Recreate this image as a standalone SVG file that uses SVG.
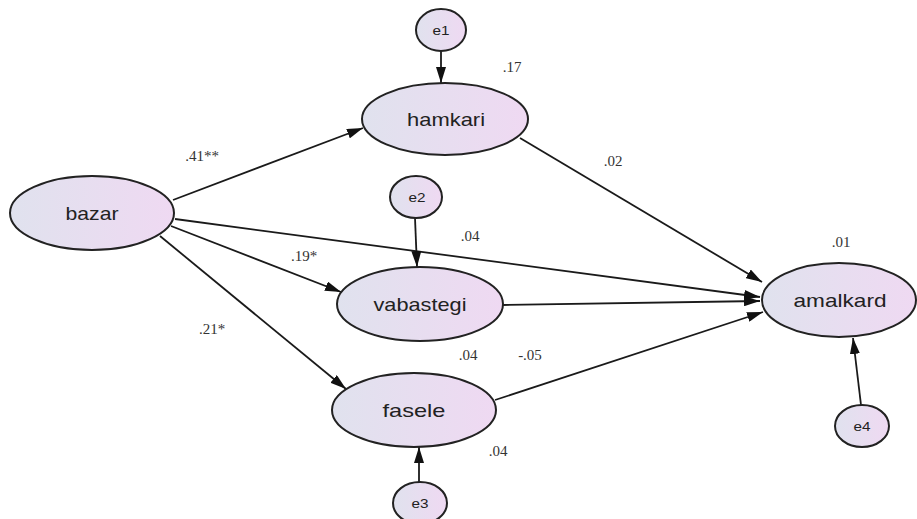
<svg xmlns="http://www.w3.org/2000/svg" width="917" height="519" viewBox="0 0 917 519">
<defs>
<linearGradient id="g" x1="0" y1="0" x2="1" y2="0">
<stop offset="0" stop-color="#e0e2ee"/>
<stop offset="1" stop-color="#efd9f2"/>
</linearGradient>
<marker id="ah" viewBox="0 0 16 10" refX="16" refY="5" markerWidth="16" markerHeight="10" markerUnits="userSpaceOnUse" orient="auto">
<path d="M0,0 L16,5 L0,10 z" fill="#111"/>
</marker>
<style>
.n{fill:url(#g);stroke:#222;stroke-width:2}
.t{font-family:"Liberation Sans",Arial,sans-serif;font-size:19px;fill:#222;text-anchor:middle}
.e{font-family:"Liberation Sans",Arial,sans-serif;font-size:12px;fill:#222;text-anchor:middle}
.v{font-family:"Liberation Serif","Times New Roman",serif;font-size:15px;fill:#333;text-anchor:middle}
.c line{stroke:#1a1a1a;stroke-width:1.8;marker-end:url(#ah)}
</style>
</defs>
<rect width="917" height="519" fill="#fff"/>
<g id="connectors" class="c">
<line x1="173" y1="200" x2="363" y2="128"/>
<line x1="175" y1="219" x2="760" y2="297"/>
<line x1="171" y1="226" x2="341" y2="292"/>
<line x1="160" y1="236" x2="346" y2="389"/>
<line x1="520" y1="138" x2="762" y2="282"/>
<line x1="503" y1="305" x2="760" y2="301"/>
<line x1="495" y1="400" x2="763" y2="312"/>
<line x1="441" y1="51" x2="441" y2="83"/>
<line x1="415" y1="218" x2="417" y2="267"/>
<line x1="419" y1="482" x2="419" y2="447"/>
<line x1="861" y1="405" x2="853" y2="338"/>
</g>
<g id="bazar"><ellipse class="n" cx="92" cy="213" rx="82" ry="37"/><text class="t" x="92" y="220" textLength="53" lengthAdjust="spacingAndGlyphs">bazar</text></g>
<g id="hamkari"><ellipse class="n" cx="445" cy="119" rx="83" ry="36"/><text class="t" x="446" y="126" textLength="78" lengthAdjust="spacingAndGlyphs">hamkari</text></g>
<g id="vabastegi"><ellipse class="n" cx="420" cy="304" rx="83" ry="37"/><text class="t" x="420" y="311" textLength="93" lengthAdjust="spacingAndGlyphs">vabastegi</text></g>
<g id="fasele"><ellipse class="n" cx="414" cy="410" rx="82" ry="37"/><text class="t" x="414" y="417" textLength="63" lengthAdjust="spacingAndGlyphs">fasele</text></g>
<g id="amalkard"><ellipse class="n" cx="839" cy="300" rx="77" ry="37"/><text class="t" x="840" y="307" textLength="93" lengthAdjust="spacingAndGlyphs">amalkard</text></g>
<g id="e1"><ellipse class="n" cx="441" cy="30" rx="25" ry="21"/><text class="e" x="441" y="35" textLength="17" lengthAdjust="spacingAndGlyphs">e1</text></g>
<g id="e2"><ellipse class="n" cx="416" cy="197" rx="26" ry="21"/><text class="e" x="417" y="202" textLength="17" lengthAdjust="spacingAndGlyphs">e2</text></g>
<g id="e3"><ellipse class="n" cx="420" cy="503" rx="27" ry="21"/><text class="e" x="420" y="508" textLength="17" lengthAdjust="spacingAndGlyphs">e3</text></g>
<g id="e4"><ellipse class="n" cx="862" cy="426" rx="27" ry="21"/><text class="e" x="862" y="431" textLength="17" lengthAdjust="spacingAndGlyphs">e4</text></g>
<g id="labels">
<text class="v" x="512" y="72">.17</text>
<text class="v" x="202" y="161">.41**</text>
<text class="v" x="613" y="166">.02</text>
<text class="v" x="470" y="241">.04</text>
<text class="v" x="841" y="247">.01</text>
<text class="v" x="304" y="261">.19*</text>
<text class="v" x="212" y="334">.21*</text>
<text class="v" x="468" y="360">.04</text>
<text class="v" x="530" y="360">-.05</text>
<text class="v" x="498" y="456">.04</text>
</g>
</svg>
